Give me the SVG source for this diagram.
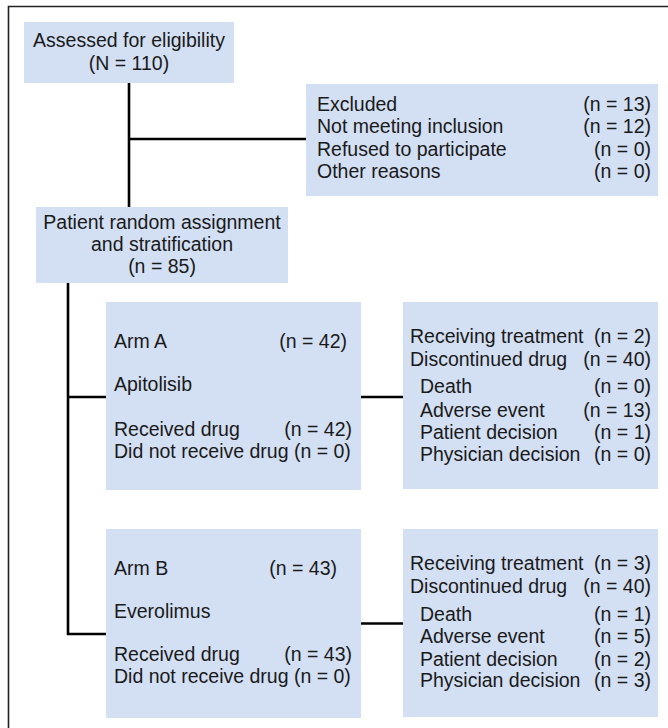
<svg xmlns="http://www.w3.org/2000/svg" width="668" height="728" viewBox="0 0 668 728">
<style>
.box{fill:#d3dff3;}
text{font-family:"Liberation Sans",Arial,sans-serif;font-size:19.5px;fill:#1a1a1a;}
.c{text-anchor:middle;}
.r{text-anchor:end;}
.ln{stroke:#000;stroke-width:2.6;fill:none;}
</style>
<rect width="668" height="728" fill="#fff"/>
<path d="M8.5,728 V6.5 H668" fill="none" stroke="#222" stroke-width="1.6"/>
<g id="connectors">
<path class="ln" d="M129,83 V207"/>
<path class="ln" d="M129,139 H306"/>
<path class="ln" d="M68,283 V634 H106"/>
<path class="ln" d="M68,397 H106"/>
<path class="ln" d="M361,397 H403"/>
<path class="ln" d="M361,623.5 H403"/>
</g>
<g id="assessed">
<rect class="box" x="24" y="22" width="210" height="61"/>
<text class="c" x="129" y="47">Assessed for eligibility</text>
<text class="c" x="129" y="70">(N = 110)</text>
</g>
<g id="excluded">
<rect class="box" x="306" y="84" width="352" height="112"/>
<text x="317" y="111">Excluded</text><text class="r" x="651" y="111">(n = 13)</text>
<text x="317" y="133.3">Not meeting inclusion</text><text class="r" x="651" y="133.3">(n = 12)</text>
<text x="317" y="155.6">Refused to participate</text><text class="r" x="651" y="155.6">(n = 0)</text>
<text x="317" y="177.8">Other reasons</text><text class="r" x="651" y="177.8">(n = 0)</text>
</g>
<g id="randomization">
<rect class="box" x="36" y="207" width="252" height="76"/>
<text class="c" x="162" y="229">Patient random assignment</text>
<text class="c" x="162" y="251">and stratification</text>
<text class="c" x="162" y="273">(n = 85)</text>
</g>
<g id="armA">
<rect class="box" x="106" y="302" width="255" height="188"/>
<text x="114" y="347.5">Arm A</text><text class="r" x="347" y="347.5">(n = 42)</text>
<text x="114" y="390.5">Apitolisib</text>
<text x="114" y="435.5">Received drug</text><text class="r" x="352" y="435.5">(n = 42)</text>
<text x="114" y="457.5">Did not receive drug (n = 0)</text>
</g>
<g id="armA-outcome">
<rect class="box" x="403" y="302" width="255" height="187"/>
<text x="410" y="343.3">Receiving treatment</text><text class="r" x="651" y="343.3">(n = 2)</text>
<text x="410" y="366">Discontinued drug</text><text class="r" x="651" y="366">(n = 40)</text>
<text x="420" y="393.3">Death</text><text class="r" x="651" y="393.3">(n = 0)</text>
<text x="420" y="416.7">Adverse event</text><text class="r" x="651" y="416.7">(n = 13)</text>
<text x="420" y="439">Patient decision</text><text class="r" x="651" y="439">(n = 1)</text>
<text x="420" y="460.7">Physician decision</text><text class="r" x="651" y="460.7">(n = 0)</text>
</g>
<g id="armB">
<rect class="box" x="106" y="529" width="255" height="189"/>
<text x="114" y="575">Arm B</text><text class="r" x="337" y="575">(n = 43)</text>
<text x="114" y="617.7">Everolimus</text>
<text x="114" y="661">Received drug</text><text class="r" x="352" y="661">(n = 43)</text>
<text x="114" y="683.3">Did not receive drug (n = 0)</text>
</g>
<g id="armB-outcome">
<rect class="box" x="403" y="529" width="255" height="188"/>
<text x="410" y="570">Receiving treatment</text><text class="r" x="651" y="570">(n = 3)</text>
<text x="410" y="592.7">Discontinued drug</text><text class="r" x="651" y="592.7">(n = 40)</text>
<text x="420" y="620.7">Death</text><text class="r" x="651" y="620.7">(n = 1)</text>
<text x="420" y="643.3">Adverse event</text><text class="r" x="651" y="643.3">(n = 5)</text>
<text x="420" y="665.7">Patient decision</text><text class="r" x="651" y="665.7">(n = 2)</text>
<text x="420" y="687.3">Physician decision</text><text class="r" x="651" y="687.3">(n = 3)</text>
</g>
</svg>
